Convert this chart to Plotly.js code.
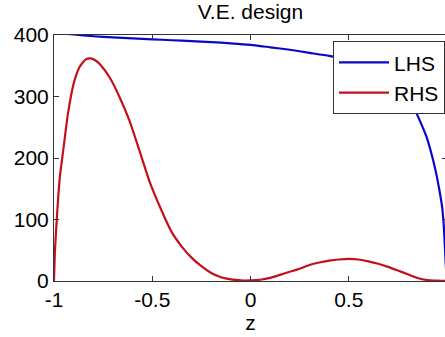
<!DOCTYPE html>
<html>
<head>
<meta charset="utf-8">
<script src="https://cdn.plot.ly/plotly-3.0.1.min.js"></script>
<style>
html,body{margin:0;padding:0;overflow:hidden;background:#fff;}
#chart{width:448px;height:337px;}
</style>
</head>
<body>
<div id="chart"></div>
<script>
// LHS (blue) curve
const zLHS = [-1, -0.9, -0.8, -0.7, -0.6, -0.5, -0.4, -0.3, -0.2, -0.1, 0, 0.1, 0.2, 0.3, 0.4, 0.5, 0.6, 0.7, 0.75, 0.8, 0.83, 0.86, 0.895, 0.92, 0.945, 0.96, 0.975, 0.984, 0.99, 0.995, 1];
const vLHS = [404, 400.8, 398, 396, 394.5, 393, 391.5, 390, 388.5, 386.5, 384, 380, 376, 371, 366, 359, 349, 332, 319, 299, 283, 262, 235, 208, 175, 150, 121, 88, 50, 20, 0];

// RHS (red) curve
const zRHS = [-1, -0.995, -0.985, -0.97, -0.95, -0.93, -0.9, -0.87, -0.84, -0.815, -0.79, -0.765, -0.715, -0.665, -0.615, -0.565, -0.515, -0.46, -0.4, -0.35, -0.3, -0.25, -0.2, -0.15, -0.1, -0.05, 0, 0.05, 0.1, 0.15, 0.2, 0.25, 0.3, 0.35, 0.4, 0.45, 0.5, 0.55, 0.6, 0.65, 0.7, 0.75, 0.8, 0.85, 0.9, 0.95, 1];
const vRHS = [0, 50, 105, 170, 220, 270, 321, 348, 360, 362, 359, 352, 330, 298, 260, 212, 163, 120, 79, 56, 38, 24, 13, 6, 2.5, 1, 1, 2, 5, 10, 15, 20, 26, 30, 33, 35, 36, 35, 32, 28, 23, 17, 11, 5, 1.5, 0.5, 0];

const seriesNames = ['LHS', 'RHS'];
const titleText = 'V.E. design';
const xTitle = 'z';
const xTicks = [-1, -0.5, 0, 0.5, 1];
const xTickText = ['-1', '-0.5', '0', '0.5', '1'];
const yTicks = [0, 100, 200, 300, 400];

const FONT = 'Liberation Sans, Arial, Helvetica, sans-serif';

const traces = [
  {x: zLHS, y: vLHS, name: seriesNames[0], mode: 'lines',
   line: {color: '#0808c8', width: 2.2, shape: 'spline', smoothing: 0.5}},
  {x: zRHS, y: vRHS, name: seriesNames[1], mode: 'lines',
   line: {color: '#c4101c', width: 2.2, shape: 'spline', smoothing: 0.5}}
];

const axisCommon = {
  showline: true, linecolor: '#333', linewidth: 1, mirror: 'ticks',
  ticks: 'inside', ticklen: 5, tickcolor: '#333', tickwidth: 1,
  showgrid: false, zeroline: false,
  tickfont: {family: FONT, size: 21, color: '#000'}
};

const layout = {
  width: 448, height: 337,
  margin: {l: 54, r: 1, t: 35, b: 56},
  paper_bgcolor: '#fff', plot_bgcolor: '#fff',
  font: {family: FONT, color: '#000'},
  title: {text: titleText, font: {family: FONT, size: 21, color: '#000'},
          xref: 'paper', x: 0.5, xanchor: 'center', yref: 'container', y: 0.965, yanchor: 'middle'},
  xaxis: Object.assign({}, axisCommon, {
    range: [-1, 1], tickvals: xTicks, ticktext: xTickText,
    title: {text: xTitle, font: {family: FONT, size: 21, color: '#000'}, standoff: 3}
  }),
  yaxis: Object.assign({}, axisCommon, {
    range: [0, 400], tickvals: yTicks
  }),
  showlegend: true,
  legend: {
    x: 0.995, xanchor: 'right', y: 0.975, yanchor: 'top',
    bgcolor: '#fff', bordercolor: '#333', borderwidth: 1,
    font: {family: FONT, size: 21, color: '#000'},
    itemwidth: 50
  }
};

Plotly.newPlot('chart', traces, layout, {staticPlot: true, displayModeBar: false});
</script>
</body>
</html>
